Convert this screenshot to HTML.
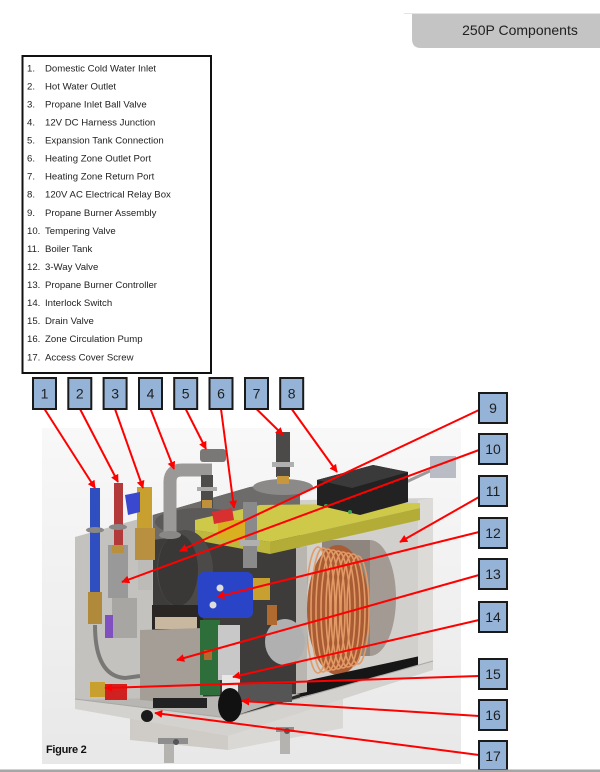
<!DOCTYPE html>
<html><head><meta charset="utf-8"><style>
html,body{margin:0;padding:0;background:#fff;width:600px;height:772px;overflow:hidden}
svg{display:block}
</style></head><body>
<svg width="600" height="772" viewBox="0 0 600 772" xmlns="http://www.w3.org/2000/svg" font-family="'Liberation Sans', Arial, sans-serif">
<defs>
<linearGradient id="bg" x1="0" y1="0" x2="0" y2="1"><stop offset="0" stop-color="#f8f8f8"/><stop offset="1" stop-color="#e8e8e8"/></linearGradient>
<marker id="ah" viewBox="0 0 10 10" refX="9" refY="5" markerWidth="4" markerHeight="4" orient="auto" markerUnits="strokeWidth"><path d="M0,0 L10,5 L0,10 z" fill="#ff0000"/></marker>
</defs>

<!-- header tab -->
<line x1="404" y1="13.5" x2="600" y2="13.5" stroke="#e4e4e4" stroke-width="1"/>
<path d="M412,14 H600 V48 H421 Q412,48 412,39 Z" fill="#c4c4c4"/>
<text x="520" y="35" font-size="14" text-anchor="middle" fill="#1f1f1f">250P Components</text>

<!-- legend -->
<rect x="22.5" y="56" width="188.5" height="317" fill="#fff" stroke="#111" stroke-width="2"/>
<g font-size="9.6" fill="#222">
<text x="27" y="71.3">1.</text><text x="45" y="71.3">Domestic Cold Water Inlet</text>
<text x="27" y="89.4">2.</text><text x="45" y="89.4">Hot Water Outlet</text>
<text x="27" y="107.4">3.</text><text x="45" y="107.4">Propane Inlet Ball Valve</text>
<text x="27" y="125.5">4.</text><text x="45" y="125.5">12V DC Harness Junction</text>
<text x="27" y="143.5">5.</text><text x="45" y="143.5">Expansion Tank Connection</text>
<text x="27" y="161.6">6.</text><text x="45" y="161.6">Heating Zone Outlet Port</text>
<text x="27" y="179.7">7.</text><text x="45" y="179.7">Heating Zone Return Port</text>
<text x="27" y="197.7">8.</text><text x="45" y="197.7">120V AC Electrical Relay Box</text>
<text x="27" y="215.8">9.</text><text x="45" y="215.8">Propane Burner Assembly</text>
<text x="27" y="233.8">10.</text><text x="45" y="233.8">Tempering Valve</text>
<text x="27" y="251.9">11.</text><text x="45" y="251.9">Boiler Tank</text>
<text x="27" y="270">12.</text><text x="45" y="270">3-Way Valve</text>
<text x="27" y="288">13.</text><text x="45" y="288">Propane Burner Controller</text>
<text x="27" y="306.1">14.</text><text x="45" y="306.1">Interlock Switch</text>
<text x="27" y="324.1">15.</text><text x="45" y="324.1">Drain Valve</text>
<text x="27" y="342.2">16.</text><text x="45" y="342.2">Zone Circulation Pump</text>
<text x="27" y="360.3">17.</text><text x="45" y="360.3">Access Cover Screw</text>
</g>

<!-- photo background -->
<rect x="42" y="428" width="419" height="336" fill="url(#bg)"/>

<!-- stand -->
<polygon points="130,712 343,690 343,728 228,750 130,740" fill="#cfccc8"/>
<polygon points="228,720 343,690 343,728 228,750" fill="#dad8d4"/>
<rect x="158" y="738" width="30" height="6" fill="#8e8e8e"/>
<rect x="164" y="744" width="10" height="19" fill="#b5b3b0"/>
<rect x="276" y="727" width="18" height="5" fill="#8e8e8e"/>
<rect x="280" y="732" width="10" height="22" fill="#b5b3b0"/>
<circle cx="176" cy="742" r="3" fill="#555"/>
<circle cx="287" cy="731" r="3" fill="#555"/>

<!-- enclosure walls -->
<polygon points="300,500 433,498 433,668 300,702" fill="#d2d0cd"/>
<polygon points="75,537 153,515 153,702 75,708" fill="#c4c2be"/>
<polygon points="153,515 250,487 300,482 300,700 153,705" fill="#3d3c3b"/>
<polygon points="153,515 250,487 300,482 300,520 153,540" fill="#6e6c6a"/>
<ellipse cx="200" cy="522" rx="45" ry="14" fill="#5c5a58"/>

<!-- boiler tank + coil -->
<ellipse cx="370" cy="598" rx="26" ry="58" fill="#a39b93"/>
<polygon points="322,540 370,540 370,656 322,656" fill="#8e867e"/>
<ellipse cx="338" cy="610" rx="31" ry="65" fill="#a95c33"/>
<g fill="none" stroke="#e29a66" stroke-width="1.6">
<ellipse cx="318" cy="610" rx="12" ry="63"/>
<ellipse cx="323" cy="610" rx="12" ry="62"/>
<ellipse cx="328" cy="610" rx="12" ry="61"/>
<ellipse cx="333" cy="610" rx="12" ry="60"/>
<ellipse cx="338" cy="610" rx="12" ry="59"/>
<ellipse cx="343" cy="610" rx="12" ry="58"/>
<ellipse cx="348" cy="610" rx="12" ry="57"/>
<ellipse cx="353" cy="610" rx="12" ry="56"/>
<ellipse cx="358" cy="610" rx="11" ry="54"/>
</g>
<polygon points="300,682 420,656 420,668 300,697" fill="#161616"/>
<polygon points="296,548 307,546 307,692 296,694" fill="#b9b6b2"/>
<polygon points="418,500 433,498 433,668 418,672" fill="#dddbd8"/>

<!-- floor + front lip -->
<polygon points="75,700 300,694 228,718" fill="#b8b6b2"/>
<polygon points="228,718 300,694 300,700 240,716" fill="#2a2a2a"/>
<polygon points="75,699 228,718 433,661 433,670 228,736 75,709" fill="#d4d2ce"/>
<polyline points="75,699 228,718 433,661" fill="none" stroke="#a9a7a3" stroke-width="1"/>

<!-- top: flange disc, pipes -->
<ellipse cx="283" cy="487" rx="30" ry="8" fill="#8c8a88"/>
<rect x="276" y="432" width="14" height="45" fill="#4c4a48"/>
<rect x="272" y="462" width="22" height="5" fill="#b0b0b0"/>
<rect x="277" y="476" width="12" height="8" fill="#c8973c"/>

<!-- yellow plate -->
<polygon points="195,520 260,505 420,503 420,508 270,542 195,530" fill="#cfc94a"/>
<polygon points="270,542 420,508 420,520 270,554" fill="#b3ad38"/>
<polygon points="195,530 270,542 270,554 195,540" fill="#bfb83e"/>

<!-- relay box -->
<line x1="406" y1="482" x2="432" y2="470" stroke="#9a9a9a" stroke-width="3"/>
<rect x="430" y="456" width="26" height="22" fill="#b9bcc4"/>
<polygon points="317,480 373,465 408,472 408,502 360,515 317,505" fill="#222"/>
<polygon points="317,480 373,465 408,472 352,488" fill="#3a3a3a"/>
<circle cx="326" cy="506" r="2" fill="#3aa84a"/>
<circle cx="350" cy="512" r="2" fill="#3aa84a"/>

<!-- burner + components (middle) -->
<ellipse cx="185" cy="570" rx="28" ry="40" fill="#4c4a48"/>
<ellipse cx="178" cy="570" rx="20" ry="36" fill="#3a3836"/>
<rect x="152" y="605" width="51" height="27" fill="#2a2624"/>
<rect x="155" y="617" width="42" height="12" fill="#c8b8a0"/>
<polygon points="140,630 203,628 203,705 140,700" fill="#a49e97"/>
<rect x="153" y="698" width="54" height="10" fill="#222"/>
<rect x="200" y="620" width="20" height="75" fill="#2e6e3a"/>
<rect x="204" y="650" width="8" height="10" fill="#b06a30"/>
<rect x="218" y="625" width="22" height="55" fill="#c8c8c8"/>
<rect x="222" y="675" width="18" height="25" fill="#e8e8e8"/>
<ellipse cx="285" cy="642" rx="20" ry="23" fill="#b0b0b0"/>
<rect x="238" y="684" width="54" height="18" fill="#555"/>
<ellipse cx="230" cy="705" rx="12" ry="17" fill="#111"/>

<!-- 3-way valve actuator -->
<rect x="253" y="578" width="17" height="22" fill="#c8a030"/>
<rect x="267" y="605" width="10" height="20" fill="#b06a30"/>
<rect x="198" y="572" width="55" height="46" rx="6" fill="#2a44c8"/>
<circle cx="220" cy="588" r="3.5" fill="#ddd"/>
<circle cx="213" cy="605" r="3.5" fill="#ddd"/>

<!-- left pipes -->
<rect x="112" y="598" width="25" height="40" fill="#a8a6a2"/>
<rect x="105" y="615" width="8" height="23" fill="#8050c0"/>
<path d="M95,625 Q95,676 125,678 L140,676" fill="none" stroke="#7a7876" stroke-width="4"/>
<rect x="90" y="488" width="10" height="112" fill="#2f4fc0"/>
<ellipse cx="95" cy="530" rx="9" ry="3" fill="#8a8886"/>
<rect x="88" y="592" width="14" height="32" fill="#b08a3a"/>
<rect x="114" y="483" width="9" height="62" fill="#b23a3a"/>
<ellipse cx="118" cy="527" rx="9" ry="3" fill="#8a8886"/>
<rect x="108" y="545" width="20" height="53" fill="#999"/>
<rect x="112" y="545" width="12" height="8" fill="#b8903e"/>
<rect x="137" y="487" width="15" height="41" fill="#c8a030"/>
<polygon points="125,495 140,492 140,512 128,515" fill="#3a48d0"/>
<rect x="135" y="528" width="20" height="32" fill="#b89040"/>
<rect x="138" y="560" width="14" height="30" fill="#bdbbb8"/>
<rect x="90" y="682" width="15" height="15" fill="#c8a030"/>
<rect x="105" y="684" width="22" height="16" fill="#d02020"/>

<!-- elbow + top fittings -->
<path d="M170,535 V482 Q170,470 182,470 H212" fill="none" stroke="#9b9997" stroke-width="13"/>
<ellipse cx="170" cy="535" rx="11" ry="4" fill="#8a8886"/>
<rect x="201" y="475" width="12" height="33" fill="#4e4c4a"/>
<rect x="197" y="487" width="20" height="4" fill="#aaa"/>
<rect x="202" y="500" width="10" height="8" fill="#c0903a"/>
<rect x="200" y="449" width="26" height="13" rx="3" fill="#7a7876"/>

<!-- valve 6 + fitting -->
<rect x="243" y="502" width="14" height="66" fill="#8a8a8a"/>
<rect x="240" y="540" width="20" height="6" fill="#b0b0b0"/>
<rect x="218" y="520" width="27" height="20" fill="#d8b020"/>
<polygon points="212,512 232,508 234,520 214,524" fill="#d83030"/>

<!-- screw -->
<circle cx="147" cy="716" r="6" fill="#1a1a1a"/>

<!-- Figure label -->
<text x="46" y="753" font-size="11" font-weight="bold" fill="#111" letter-spacing="-0.3">Figure 2</text>

<!-- red leader lines -->
<g stroke="#ff0000" stroke-width="2" fill="none" marker-end="url(#ah)">
<line x1="44.5" y1="409" x2="95" y2="488"/>
<line x1="80" y1="409" x2="118" y2="482"/>
<line x1="115" y1="409" x2="143" y2="488"/>
<line x1="150.5" y1="409" x2="174" y2="469"/>
<line x1="185.7" y1="409" x2="206" y2="449"/>
<line x1="221" y1="409" x2="234" y2="508"/>
<line x1="256.5" y1="409" x2="283" y2="435"/>
<line x1="291.7" y1="409" x2="337" y2="472"/>
<line x1="479" y1="410" x2="180" y2="551"/>
<line x1="479" y1="450" x2="122" y2="582"/>
<line x1="479" y1="497" x2="400" y2="542"/>
<line x1="479" y1="532" x2="217" y2="597"/>
<line x1="479" y1="575" x2="177" y2="660"/>
<line x1="479" y1="620" x2="233" y2="677"/>
<line x1="479" y1="676" x2="105" y2="688"/>
<line x1="479" y1="716" x2="242" y2="701"/>
<line x1="479" y1="755" x2="155" y2="713"/>
</g>

<!-- number boxes -->
<g fill="#95b3d7" stroke="#1a1a1a" stroke-width="2">
<rect x="33" y="378" width="23" height="31"/>
<rect x="68.3" y="378" width="23" height="31"/>
<rect x="103.6" y="378" width="23" height="31"/>
<rect x="139" y="378" width="23" height="31"/>
<rect x="174.2" y="378" width="23" height="31"/>
<rect x="209.5" y="378" width="23" height="31"/>
<rect x="245" y="378" width="23" height="31"/>
<rect x="280.2" y="378" width="23" height="31"/>
<rect x="479" y="393" width="28" height="30"/>
<rect x="479" y="434" width="28" height="30"/>
<rect x="479" y="476" width="28" height="30"/>
<rect x="479" y="518" width="28" height="30"/>
<rect x="479" y="559" width="28" height="30"/>
<rect x="479" y="602" width="28" height="30"/>
<rect x="479" y="659" width="28" height="30"/>
<rect x="479" y="700" width="28" height="30"/>
<rect x="479" y="741" width="28" height="29"/>
</g>
<g font-size="14" fill="#1f1f1f" text-anchor="middle">
<text x="44.5" y="398.5">1</text>
<text x="79.8" y="398.5">2</text>
<text x="115.1" y="398.5">3</text>
<text x="150.5" y="398.5">4</text>
<text x="185.7" y="398.5">5</text>
<text x="221" y="398.5">6</text>
<text x="256.5" y="398.5">7</text>
<text x="291.7" y="398.5">8</text>
<text x="493" y="413">9</text>
<text x="493" y="454">10</text>
<text x="493" y="496">11</text>
<text x="493" y="538">12</text>
<text x="493" y="579">13</text>
<text x="493" y="622">14</text>
<text x="493" y="679">15</text>
<text x="493" y="720">16</text>
<text x="493" y="761">17</text>
</g>

<!-- bottom bar -->
<rect x="0" y="769.5" width="600" height="2.5" fill="#a6a6a6"/>
</svg>
</body></html>
